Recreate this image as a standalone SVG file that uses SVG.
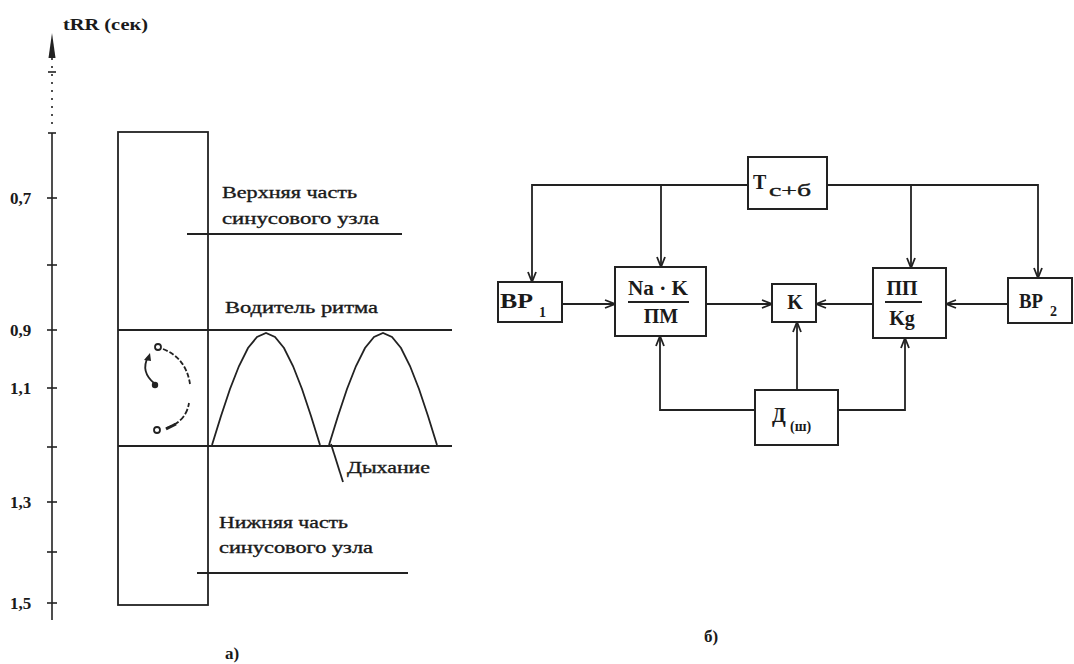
<svg xmlns="http://www.w3.org/2000/svg" width="1074" height="664" viewBox="0 0 1074 664">
<style>
.ln{stroke:#222;stroke-width:1.8;fill:none}
.tk{stroke:#222;stroke-width:1.6}
.box{stroke:#222;stroke-width:2;fill:#fff}
.t{font-family:"Liberation Serif","DejaVu Serif",serif;fill:#1a1a1a}
.lab{font-size:16px;stroke:#1a1a1a;stroke-width:0.35}
.num{font-size:17px;font-weight:bold}
.bx{font-size:20px;font-weight:bold}
.sub{font-size:14px;font-weight:bold}
</style>
<defs>
<marker id="ar" viewBox="0 0 12 10" refX="11" refY="5" markerWidth="13" markerHeight="10" markerUnits="userSpaceOnUse" orient="auto">
<path d="M1,1 L11,5 L1,9" fill="none" stroke="#222" stroke-width="1.8"/>
</marker>
</defs>
<rect width="1074" height="664" fill="#fff"/>

<g id="axis">
<polygon points="52,33 48.5,58 55.5,58" fill="#222"/>
<line x1="52" y1="58" x2="52" y2="130" class="tk" stroke-dasharray="2,6"/>
<line x1="52" y1="133" x2="52" y2="620" class="tk"/>
<line x1="48" y1="72" x2="56" y2="72" class="tk"/>
<line x1="48" y1="133" x2="56" y2="133" class="tk"/>
<line x1="47" y1="198" x2="57" y2="198" class="tk"/>
<line x1="47" y1="265" x2="57" y2="265" class="tk"/>
<line x1="47" y1="330" x2="57" y2="330" class="tk"/>
<line x1="47" y1="388" x2="57" y2="388" class="tk"/>
<line x1="47" y1="447" x2="57" y2="447" class="tk"/>
<line x1="47" y1="502" x2="57" y2="502" class="tk"/>
<line x1="47" y1="552" x2="57" y2="552" class="tk"/>
<line x1="47" y1="603" x2="57" y2="603" class="tk"/>
<text class="t num" x="63" y="30" textLength="85" lengthAdjust="spacingAndGlyphs">tRR (сек)</text>
<text class="t num" x="10" y="204">0,7</text>
<text class="t num" x="10" y="336">0,9</text>
<text class="t num" x="10" y="394">1,1</text>
<text class="t num" x="10" y="508">1,3</text>
<text class="t num" x="10" y="609">1,5</text>
</g>

<g id="sinus-node">
<rect x="118" y="132" width="90" height="473" class="ln"/>
<line x1="118" y1="330" x2="452" y2="330" class="ln"/>
<line x1="118" y1="446" x2="452" y2="446" class="ln"/>
<line x1="187" y1="234" x2="402" y2="234" class="ln"/>
<line x1="197" y1="573" x2="408" y2="573" class="ln"/>
<text class="t lab" x="222" y="198" textLength="135" lengthAdjust="spacingAndGlyphs">Верхняя часть</text>
<text class="t lab" x="222" y="224" textLength="157" lengthAdjust="spacingAndGlyphs">синусового узла</text>
<text class="t lab" x="225" y="313" textLength="153" lengthAdjust="spacingAndGlyphs">Водитель ритма</text>
<text class="t lab" x="219" y="528" textLength="129" lengthAdjust="spacingAndGlyphs">Нижняя часть</text>
<text class="t lab" x="219" y="553" textLength="154" lengthAdjust="spacingAndGlyphs">синусового узла</text>
<text class="t num" x="225" y="659">а)</text>
</g>

<g id="cycle">
<circle cx="158" cy="347" r="3" class="ln" stroke-width="1.4"/>
<path d="M163,349 Q186,358 190,384" class="ln" stroke-dasharray="5,2"/>
<path d="M155,384 Q140,372 148,357" class="ln"/>
<polygon points="150,353 144,360 151,361" fill="#222"/>
<circle cx="155" cy="385" r="3.2" fill="#222"/>
<circle cx="157" cy="430" r="3" class="ln" stroke-width="1.4"/>
<path d="M166,428 Q186,422 189,403" class="ln" stroke-dasharray="6,2"/>
<path d="M166,429 L176,424" stroke="#222" stroke-width="3"/>
</g>

<g id="breathing">
<polyline class="ln" points="212,445 221,416 230,389 239,366 248,348 257,337 266,333 275,337 284,348 293,366 302,389 311,416 320,445"/>
<polyline class="ln" points="329,445 338,416 347,389 356,366 365,348 374,337 383,333 392,337 401,348 410,366 419,389 428,416 437,445"/>
<line x1="331" y1="444" x2="343" y2="482" class="ln" stroke-width="1.4"/>
<text class="t lab" x="347" y="473" textLength="83" lengthAdjust="spacingAndGlyphs">Дыхание</text>
</g>

<g id="connectors">
<polyline class="ln" points="748,185 532,185 532,282" marker-end="url(#ar)"/>
<polyline class="ln" points="661,185 661,267" marker-end="url(#ar)"/>
<polyline class="ln" points="827,185 1038,185 1038,278" marker-end="url(#ar)"/>
<polyline class="ln" points="911,185 911,268" marker-end="url(#ar)"/>
<line x1="562" y1="304" x2="615" y2="304" class="ln" marker-end="url(#ar)"/>
<line x1="706" y1="304" x2="772" y2="304" class="ln" marker-end="url(#ar)"/>
<line x1="873" y1="304" x2="816" y2="304" class="ln" marker-end="url(#ar)"/>
<line x1="1008" y1="304" x2="946" y2="304" class="ln" marker-end="url(#ar)"/>
<polyline class="ln" points="755,410 660,410 660,336" marker-end="url(#ar)"/>
<polyline class="ln" points="838,410 905,410 905,338" marker-end="url(#ar)"/>
<line x1="797" y1="390" x2="797" y2="322" class="ln" marker-end="url(#ar)"/>
</g>

<g id="T">
<rect x="748" y="157" width="79" height="52" class="box"/>
<text class="t bx" x="753" y="189">T</text>
<text class="t" x="769" y="196" font-size="16" textLength="42" lengthAdjust="spacingAndGlyphs" stroke="#1a1a1a" stroke-width="0.4">c+б</text>
</g>

<g id="BP1">
<rect x="498" y="282" width="64" height="40" class="box"/>
<text class="t bx" x="500" y="308" textLength="33" lengthAdjust="spacingAndGlyphs">BP</text>
<text class="t sub" x="539" y="317">1</text>
</g>

<g id="NaK">
<rect x="615" y="267" width="91" height="69" class="box"/>
<text class="t bx" x="658" y="295" text-anchor="middle" textLength="60" lengthAdjust="spacingAndGlyphs">Na · K</text>
<line x1="628" y1="302" x2="689" y2="302" class="ln"/>
<text class="t bx" x="661" y="323" text-anchor="middle">ПМ</text>
</g>

<g id="K">
<rect x="772" y="284" width="44" height="38" class="box"/>
<text class="t bx" x="795" y="309" text-anchor="middle">K</text>
</g>

<g id="PP">
<rect x="873" y="268" width="73" height="70" class="box"/>
<text class="t bx" x="902" y="295" text-anchor="middle">ПП</text>
<line x1="885" y1="302" x2="922" y2="302" class="ln"/>
<text class="t bx" x="902" y="325" text-anchor="middle">Kg</text>
</g>

<g id="BP2">
<rect x="1008" y="278" width="64" height="45" class="box"/>
<text class="t bx" x="1019" y="308" font-size="17" textLength="24" lengthAdjust="spacingAndGlyphs">BP</text>
<text class="t sub" x="1050" y="316">2</text>
</g>

<g id="D">
<rect x="755" y="390" width="83" height="55" class="box"/>
<text class="t bx" x="772" y="422">Д</text>
<text class="t sub" x="790" y="431">(ш)</text>
</g>

<text class="t num" x="704" y="642">б)</text>
</svg>
